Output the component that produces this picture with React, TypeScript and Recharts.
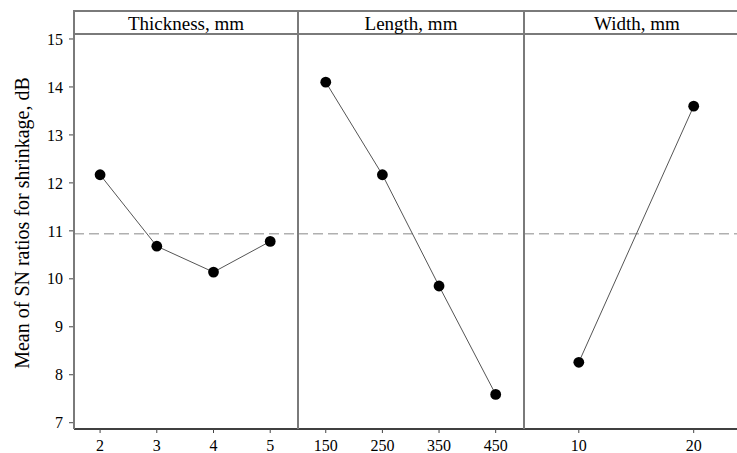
import React from 'react';
import { LineChart, Line, XAxis, YAxis, ReferenceLine } from 'recharts';

const thicknessLevels = [2, 3, 4, 5];
const thicknessSN = [12.17, 10.68, 10.14, 10.78];
const lengthLevels = [150, 250, 350, 450];
const lengthSN = [14.1, 12.17, 9.85, 7.59];
const widthLevels = [10, 20];
const widthSN = [8.26, 13.6];
const overallMean = 10.94;
const yTicks = [7, 8, 9, 10, 11, 12, 13, 14, 15];
const panelTitles = ['Thickness, mm', 'Length, mm', 'Width, mm'];

const FONT = '"Liberation Serif", "Times New Roman", serif';
const FRAME = '#7a7a7a';
const Y_DOMAIN: [number, number] = [6.869, 15.083];
const H = 453;
const MARGIN = { top: 35, right: 0, bottom: 0, left: 0 };

const toRows = (xs: number[], ys: number[]) => xs.map((x, i) => ({ x, y: ys[i] }));

const tickStyle = { fill: '#000', fontSize: 16, fontFamily: FONT };

function YLabel(props: any) {
  const { x, y, height } = props.viewBox;
  const cx = x + 22;
  const cy = y + height / 2 - 9;
  return (
    <text
      x={cx}
      y={cy}
      transform={`rotate(-90 ${cx} ${cy})`}
      textAnchor="middle"
      dominantBaseline="central"
      fontSize={20}
      fontFamily={FONT}
      fill="#000"
    >
      Mean of SN ratios for shrinkage, dB
    </text>
  );
}

interface PanelProps {
  left: number;
  width: number;
  rows: { x: number; y: number }[];
  ticks: number[];
  domain: [number, number];
  first?: boolean;
}

function Panel({ left, width, rows, ticks, domain, first }: PanelProps) {
  return (
    <div style={{ position: 'absolute', left, top: 0 }}>
      <LineChart width={width} height={H} data={rows} margin={MARGIN}>
        <XAxis
          dataKey="x"
          type="number"
          domain={domain}
          ticks={ticks}
          allowDataOverflow
          height={24}
          tickSize={4}
          tickMargin={7}
          tick={tickStyle}
          axisLine={{ stroke: '#000', strokeWidth: 1.5 }}
          tickLine={{ stroke: '#444' }}
        />
        {first ? (
          <YAxis
            type="number"
            domain={Y_DOMAIN}
            ticks={yTicks}
            allowDataOverflow
            width={74}
            tickSize={5}
            tickMargin={6}
            tick={tickStyle}
            axisLine={false}
            tickLine={{ stroke: '#444' }}
            label={<YLabel />}
          />
        ) : (
          <YAxis hide type="number" domain={Y_DOMAIN} allowDataOverflow />
        )}
        <ReferenceLine
          y={overallMean}
          stroke="#b0b0b0"
          strokeWidth={1.5}
          strokeDasharray="10 5"
        />
        <Line
          dataKey="y"
          stroke="#555"
          strokeWidth={1}
          isAnimationActive={false}
          dot={{ r: 5.4, fill: '#000', stroke: '#000', strokeWidth: 0 }}
          activeDot={false}
        />
      </LineChart>
    </div>
  );
}

const panels = [
  { left: 0, width: 298, rows: toRows(thicknessLevels, thicknessSN), ticks: thicknessLevels, domain: [1.54, 5.49] as [number, number], first: true },
  { left: 298, width: 226, rows: toRows(lengthLevels, lengthSN), ticks: lengthLevels, domain: [101, 500] as [number, number] },
  { left: 524, width: 226, rows: toRows(widthLevels, widthSN), ticks: widthLevels, domain: [5.23, 24.9] as [number, number] },
];

const titleBoxes = [
  { left: 74, width: 224 },
  { left: 298, width: 226 },
  { left: 524, width: 226 },
];

export default function App() {
  return (
    <div
      style={{
        position: 'absolute',
        left: 0,
        top: 0,
        width: 737,
        height: H,
        overflow: 'hidden',
        background: '#fff',
        fontFamily: FONT,
      }}
    >
      {panels.map((p, i) => (
        <Panel key={i} {...p} />
      ))}
      {/* header strip */}
      <div
        style={{
          position: 'absolute',
          left: 74,
          top: 10,
          width: 700,
          height: 25,
          boxSizing: 'border-box',
          borderTop: `2px solid ${FRAME}`,
          borderBottom: `2px solid ${FRAME}`,
        }}
      />
      {titleBoxes.map((b, i) => (
        <div
          key={i}
          style={{
            position: 'absolute',
            left: b.left,
            width: b.width,
            top: 13,
            height: 21,
            lineHeight: '21px',
            fontSize: 19,
            textAlign: 'center',
            color: '#000',
          }}
        >
          {panelTitles[i]}
        </div>
      ))}
      {/* panel borders */}
      {[73, 297, 523].map((x) => (
        <div
          key={x}
          style={{ position: 'absolute', left: x, top: 10, width: 2, height: 419, background: FRAME }}
        />
      ))}
    </div>
  );
}
